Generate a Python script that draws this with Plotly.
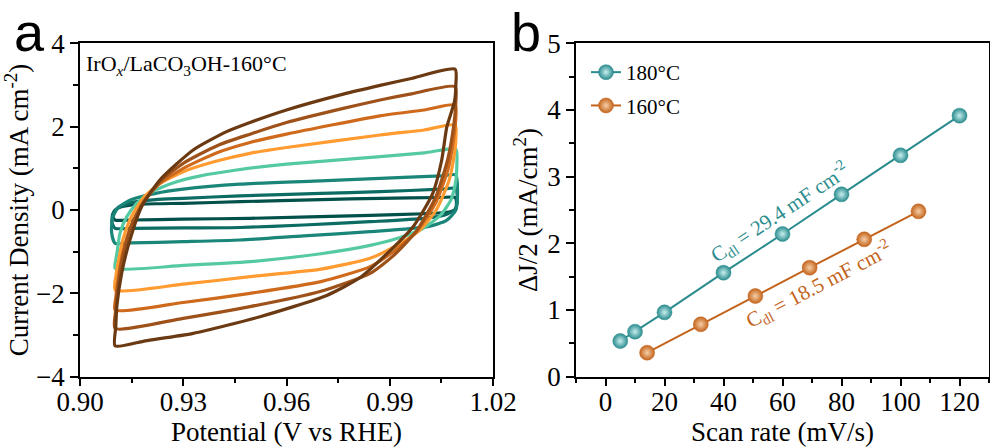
import plotly.graph_objects as go

# ---------------- Panel a: CV curves (potential V vs RHE, current density mA cm-2) ----------------
cv_names = ["c1", "c2", "c3", "c4", "c5", "c6", "c7", "c8"]

c1_E = [0.9102, 0.9096, 0.9098, 0.9112, 0.9150, 0.9220, 0.9300, 0.9465, 0.9700, 0.9872, 1.0050, 1.0090,
        1.0094, 1.0090, 1.0060, 1.0000, 0.9843, 0.9494, 0.9300, 0.9150, 0.9102]
c1_J = [-0.24, -0.15, -0.05, 0.05, 0.12, 0.15, 0.16, 0.20, 0.25, 0.28, 0.30, 0.30,
        0.15, 0.00, -0.06, -0.09, -0.13, -0.20, -0.22, -0.24, -0.24]

c2_E = [0.9102, 0.9093, 0.9095, 0.9110, 0.9150, 0.9220, 0.9300, 0.9465, 0.9700, 0.9872, 1.0050, 1.0092,
        1.0096, 1.0090, 1.0060, 1.0000, 0.9843, 0.9650, 0.9465, 0.9300, 0.9150, 0.9102]
c2_J = [-0.44, -0.30, -0.10, 0.05, 0.18, 0.25, 0.28, 0.34, 0.40, 0.44, 0.50, 0.52,
        0.25, 0.02, -0.12, -0.20, -0.28, -0.36, -0.42, -0.43, -0.44, -0.44]

c3_E = [0.9102, 0.9092, 0.9094, 0.9110, 0.9150, 0.9220, 0.9300, 0.9465, 0.9700, 0.9872, 1.0050, 1.0092,
        1.0097, 1.0092, 1.0065, 1.0010, 0.9843, 0.9650, 0.9465, 0.9300, 0.9150, 0.9102]
c3_J = [-0.80, -0.55, -0.20, 0.05, 0.25, 0.40, 0.50, 0.62, 0.70, 0.76, 0.82, 0.84,
        0.40, 0.00, -0.25, -0.40, -0.52, -0.62, -0.72, -0.76, -0.79, -0.80]

c4_E = [0.9102, 0.9104, 0.9108, 0.9116, 0.9136, 0.9165, 0.9205, 0.9270, 0.9350, 0.9455, 0.9600, 0.9872, 1.0000, 1.0092,
        1.0095, 1.0092, 1.0078, 1.0048, 0.9995, 0.9930, 0.9843, 0.9700, 0.9494, 0.9300, 0.9102]
c4_J = [-1.40, -1.20, -1.00, -0.56, -0.16, 0.16, 0.42, 0.65, 0.82, 0.96, 1.10, 1.28, 1.37, 1.46,
        1.10, 0.70, 0.25, -0.12, -0.45, -0.66, -0.85, -1.05, -1.24, -1.33, -1.40]

c5_E = [0.9102, 0.9104, 0.9110, 0.9125, 0.9150, 0.9185, 0.9230, 0.9300, 0.9400, 0.9494, 0.9600, 0.9872, 1.0000, 1.0090,
        1.0092, 1.0087, 1.0072, 1.0035, 0.9985, 0.9920, 0.9843, 0.9700, 0.9494, 0.9300, 0.9102]
c5_J = [-1.92, -1.60, -1.30, -0.70, -0.15, 0.30, 0.62, 0.92, 1.18, 1.36, 1.50, 1.80, 1.92, 2.04,
        1.70, 1.30, 0.70, 0.00, -0.50, -0.85, -1.16, -1.42, -1.60, -1.78, -1.92]

c6_E = [0.9102, 0.9104, 0.9110, 0.9125, 0.9150, 0.9185, 0.9230, 0.9300, 0.9400, 0.9494, 0.9600, 0.9872, 1.0000, 1.0090,
        1.0092, 1.0087, 1.0070, 1.0035, 0.9980, 0.9910, 0.9843, 0.9700, 0.9494, 0.9300, 0.9102]
c6_J = [-2.40, -2.10, -1.70, -1.00, -0.35, 0.20, 0.62, 1.00, 1.38, 1.62, 1.82, 2.26, 2.40, 2.52,
        2.20, 1.80, 1.00, 0.20, -0.50, -1.00, -1.36, -1.72, -2.00, -2.22, -2.40]

c7_E = [0.9102, 0.9104, 0.9108, 0.9122, 0.9148, 0.9185, 0.9235, 0.9300, 0.9400, 0.9494, 0.9600, 0.9765, 0.9872, 0.9959, 1.0090,
        1.0092, 1.0087, 1.0068, 1.0033, 0.9978, 0.9910, 0.9843, 0.9700, 0.9494, 0.9300, 0.9102]
c7_J = [-2.84, -2.40, -2.00, -1.20, -0.40, 0.20, 0.70, 1.12, 1.55, 1.82, 2.10, 2.44, 2.64, 2.78, 2.96,
        2.60, 2.10, 1.20, 0.30, -0.50, -1.10, -1.52, -1.95, -2.32, -2.60, -2.84]

c8_E = [0.9102, 0.9104, 0.9107, 0.9121, 0.9145, 0.9179, 0.9232, 0.9329, 0.9426, 0.9494, 0.9600, 0.9765, 0.9872, 0.9959, 1.0090,
        1.0092, 1.0088, 1.0066, 1.0051, 1.0025, 0.9968, 0.9885, 0.9814, 0.9717, 0.9523, 0.9329, 0.9190, 0.9102]
c8_J = [-3.26, -2.80, -2.32, -1.52, -0.72, 0.08, 0.72, 1.44, 1.88, 2.10, 2.40, 2.78, 2.99, 3.15, 3.38,
        3.00, 2.60, 2.00, 1.20, 0.40, -0.40, -1.10, -1.62, -2.05, -2.56, -2.96, -3.14, -3.26]

cv_E = [c1_E, c2_E, c3_E, c4_E, c5_E, c6_E, c7_E, c8_E]
cv_J = [c1_J, c2_J, c3_J, c4_J, c5_J, c6_J, c7_J, c8_J]
cv_colors = ["#02504a", "#0c6b63", "#1a8679", "#55c9a2", "#ff9b30", "#cf6a1c", "#9f511a", "#6b3a12"]

# ---------------- Panel b: double-layer capacitance ----------------
rate_180 = [5, 10, 20, 40, 60, 80, 100, 120]
dj_180 = [0.535, 0.675, 0.965, 1.56, 2.14, 2.735, 3.32, 3.915]
rate_160 = [14.1, 32.3, 50.8, 69.2, 87.7, 106.1]
dj_160 = [0.36, 0.786, 1.21, 1.635, 2.06, 2.48]

series_names = ["180°C", "160°C"]
cdl_labels = ["C<sub>dl</sub> = 29.4 mF cm<sup>-2</sup>", "C<sub>dl</sub> = 18.5 mF cm<sup>-2</sup>"]
cdl_pos = [(59.0, 2.47), (72.3, 1.39)]

teal = "#2b8c8e"
brown = "#c4641c"
serif = "Liberation Serif, Times New Roman, serif"

fig = go.Figure()

for name, E, J, col in zip(cv_names, cv_E, cv_J, cv_colors):
    fig.add_trace(go.Scatter(x=E, y=J, mode="lines", name=name, showlegend=False,
                             line=dict(color=col, width=3.2, shape="spline", smoothing=0.6),
                             xaxis="x", yaxis="y", hoverinfo="skip"))

for name, xs, ys, col, light, grp in [(series_names[0], rate_180, dj_180, teal, "#c8eeee", "g1"),
                                      (series_names[1], rate_160, dj_160, brown, "#f6cfa8", "g2")]:
    fig.add_trace(go.Scatter(x=xs, y=ys, mode="lines+markers", name=name, legendgroup=grp,
                             line=dict(color=col, width=2),
                             marker=dict(size=15, color=col, line=dict(color=col, width=0.5),
                                         gradient=dict(type="radial", color=light)),
                             xaxis="x2", yaxis="y2"))

ydom = [0.1573, 0.9031]
axis_common = dict(showline=True, linecolor="black", linewidth=1.6, mirror=True, ticks="outside",
                   ticklen=8, tickwidth=1.6, tickcolor="black", showgrid=False, zeroline=False,
                   automargin=False,
                   tickfont=dict(family=serif, size=27, color="black"))

fig.update_layout(
    width=990, height=447, margin=dict(l=0, r=0, t=0, b=0),
    paper_bgcolor="white", plot_bgcolor="white",
    font=dict(family=serif, color="black"),
    xaxis=dict(domain=[80/990, 493/990], range=[0.90, 1.02], tickvals=[0.90, 0.93, 0.96, 0.99, 1.02],
               ticktext=["0.90", "0.93", "0.96", "0.99", "1.02"], ticklabelstandoff=-8,
               minor=dict(dtick=0.015, ticklen=5, tickwidth=1.6, tickcolor="black", ticks="outside"),
               title=dict(text="Potential (V vs RHE)", font=dict(family=serif, size=27), standoff=10),
               anchor="y", **axis_common),
    yaxis=dict(domain=ydom, range=[-4, 4], dtick=2,
               minor=dict(dtick=1, ticklen=5, tickwidth=1.6, tickcolor="black", ticks="outside"),
               title=dict(text="Current Density (mA cm<sup>-2</sup>)", font=dict(family=serif, size=27), standoff=0),
               anchor="x", **axis_common),
    xaxis2=dict(domain=[576/990, 989/990], range=[-10, 130], dtick=20, tick0=0, ticklabelstandoff=-8,
                minor=dict(dtick=10, ticklen=5, tickwidth=1.6, tickcolor="black", ticks="outside"),
                title=dict(text="Scan rate (mV/s)", font=dict(family=serif, size=27), standoff=10),
                anchor="y2", **axis_common),
    yaxis2=dict(domain=ydom, range=[0, 5], dtick=1,
                minor=dict(dtick=0.5, ticklen=5, tickwidth=1.6, tickcolor="black", ticks="outside"),
                title=dict(text="ΔJ/2 (mA/cm<sup>2</sup>)", font=dict(family=serif, size=27), standoff=2),
                anchor="x2", **axis_common),
    legend=dict(x=586/990, y=1 - 52/447, xanchor="left", yanchor="top", bgcolor="rgba(0,0,0,0)",
                font=dict(family=serif, size=21, color="black"), tracegroupgap=3, traceorder="grouped"),
)

annotations = [
    dict(text="a", x=29/990, y=1 - 52/447, xref="paper", yref="paper", xanchor="center", yanchor="bottom",
         showarrow=False, font=dict(family="Liberation Sans, Arial, sans-serif", size=54, color="black"), yshift=-12),
    dict(text="b", x=526/990, y=1 - 52/447, xref="paper", yref="paper", xanchor="center", yanchor="bottom",
         showarrow=False, font=dict(family="Liberation Sans, Arial, sans-serif", size=54, color="black"), yshift=-12),
    dict(text="IrO<sub><i>x</i></sub>/LaCO<sub>3</sub>OH-160°C", x=84/990, y=1 - 65/447, xref="paper", yref="paper",
         xanchor="left", yanchor="middle", showarrow=False, font=dict(family=serif, size=22, color="black")),
    dict(text=cdl_labels[0], x=cdl_pos[0][0], y=cdl_pos[0][1], xref="x2", yref="y2", showarrow=False,
         textangle=-33.5, font=dict(family=serif, size=21, color=teal)),
    dict(text=cdl_labels[1], x=cdl_pos[1][0], y=cdl_pos[1][1], xref="x2", yref="y2", showarrow=False,
         textangle=-27.5, font=dict(family=serif, size=21, color=brown)),
]
fig.update_layout(annotations=annotations)

fig.write_html("out.html")
